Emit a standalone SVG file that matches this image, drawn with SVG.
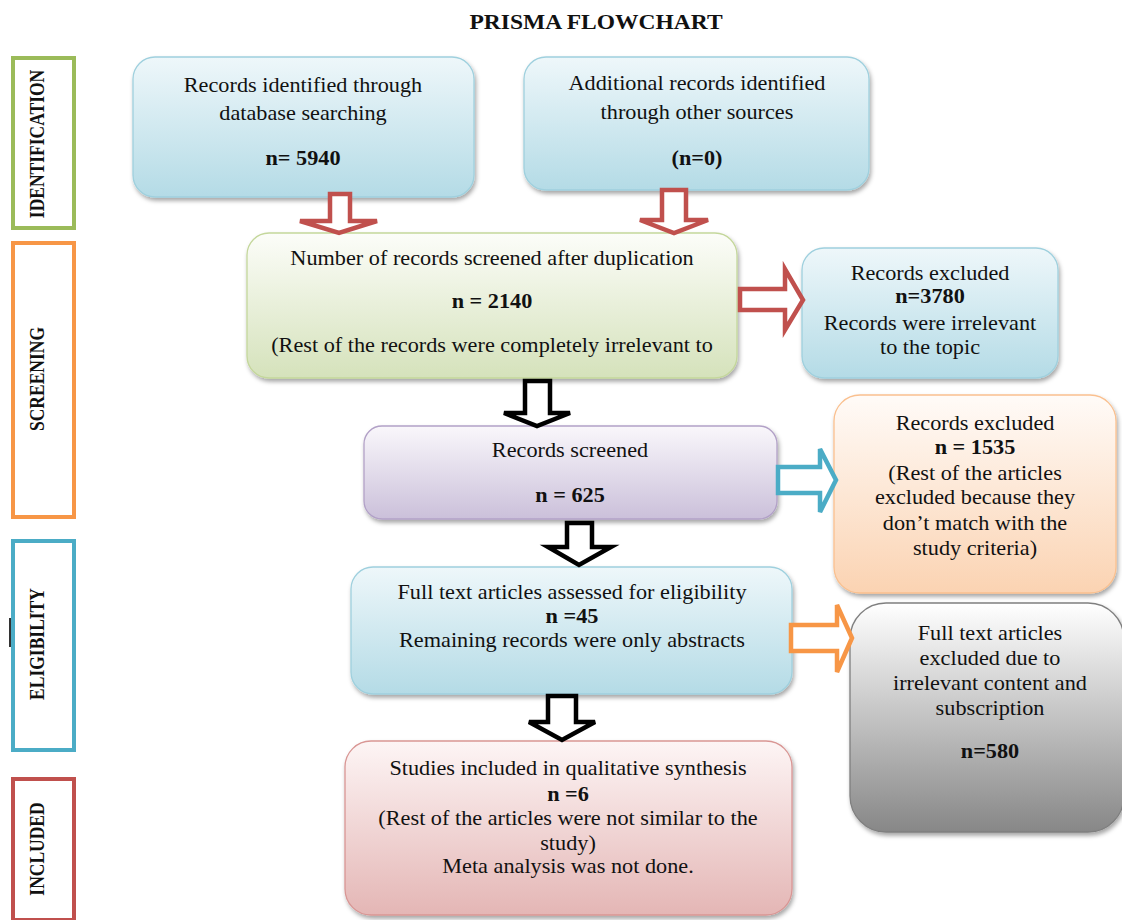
<svg xmlns="http://www.w3.org/2000/svg" width="1122" height="920" viewBox="0 0 1122 920">
<style>
text{font-family:"Liberation Serif","Times New Roman",serif;fill:#111;}
.t{font-size:21px;text-anchor:middle;}
.b{font-weight:bold;}
.title{font-size:21px;font-weight:bold;text-anchor:middle;}
.side{font-size:17.5px;font-weight:bold;text-anchor:middle;dominant-baseline:central;}
.sbox{fill:#fff;stroke-width:4;}
.box{stroke-width:1.3;filter:url(#sh);}
.arr{fill:#fff;stroke-width:4.5;stroke-linejoin:miter;}
</style>
<defs>
<filter id="sh" x="-10%" y="-10%" width="125%" height="130%">
<feDropShadow dx="1.5" dy="3" stdDeviation="2" flood-color="#000" flood-opacity="0.35"/>
</filter>
<linearGradient id="gBlue" x1="0" y1="0" x2="0" y2="1"><stop offset="0" stop-color="#eef7fa"/><stop offset="1" stop-color="#b4dbe6"/></linearGradient>
<linearGradient id="gGreen" x1="0" y1="0" x2="0" y2="1"><stop offset="0" stop-color="#fcfdf9"/><stop offset="1" stop-color="#d5e2bb"/></linearGradient>
<linearGradient id="gPurple" x1="0" y1="0" x2="0" y2="1"><stop offset="0" stop-color="#f9f7fb"/><stop offset="1" stop-color="#cbc0da"/></linearGradient>
<linearGradient id="gOrange" x1="0" y1="0" x2="0" y2="1"><stop offset="0" stop-color="#fffbf8"/><stop offset="1" stop-color="#fbd3b2"/></linearGradient>
<linearGradient id="gGray" x1="0" y1="0" x2="0" y2="1"><stop offset="0" stop-color="#ffffff"/><stop offset="1" stop-color="#878787"/></linearGradient>
<linearGradient id="gPink" x1="0" y1="0" x2="0" y2="1"><stop offset="0" stop-color="#fdf5f5"/><stop offset="1" stop-color="#e4b6b5"/></linearGradient>
</defs>
<rect width="1122" height="920" fill="#fff"/>

<text class="title" x="0" y="29" transform="translate(596 0) scale(1.12 1)">PRISMA FLOWCHART</text>

<g id="stage-identification">
<rect class="sbox" x="13" y="58" width="61" height="170" stroke="#9bbb59"/>
<text class="side" transform="translate(37 144) rotate(-90) scale(1 1.15)">IDENTIFICATION</text>
</g>
<g id="stage-screening">
<rect class="sbox" x="13" y="243" width="61" height="274" stroke="#f79646"/>
<text class="side" transform="translate(37 379) rotate(-90) scale(1 1.15)">SCREENING</text>
</g>
<g id="stage-eligibility">
<rect class="sbox" x="13" y="541" width="61" height="209" stroke="#4bacc6"/>
<text class="side" transform="translate(37 644) rotate(-90) scale(1 1.15)">ELIGIBILITY</text>
<line x1="10" y1="618" x2="10" y2="647" stroke="#333" stroke-width="2"/>
</g>
<g id="stage-included">
<rect class="sbox" x="13" y="779" width="61" height="141" stroke="#c0504d"/>
<text class="side" transform="translate(37 849) rotate(-90) scale(1 1.15)">INCLUDED</text>
</g>

<g id="node-database">
<rect class="box" x="133" y="57" width="341" height="140" rx="22" fill="url(#gBlue)" stroke="#9fd0de"/>
<g transform="translate(303 0) scale(1.06 1)">
<text class="t" x="0" y="92">Records identified through</text>
<text class="t" x="0" y="120">database searching</text>
<text class="t b" x="0" y="165">n= 5940</text>
</g>
</g>
<g id="node-other">
<rect class="box" x="524" y="57" width="345" height="133" rx="22" fill="url(#gBlue)" stroke="#9fd0de"/>
<g transform="translate(697 0) scale(1.06 1)">
<text class="t" x="0" y="90">Additional records identified</text>
<text class="t" x="0" y="119">through other sources</text>
<text class="t b" x="0" y="165">(n=0)</text>
</g>
</g>
<g id="node-screened-dup">
<rect class="box" x="247" y="233" width="490" height="145" rx="22" fill="url(#gGreen)" stroke="#c4d79b"/>
<g transform="translate(492 0) scale(1.06 1)">
<text class="t" x="0" y="265">Number of records screened after duplication</text>
<text class="t b" x="0" y="308">n = 2140</text>
<text class="t" x="0" y="352">(Rest of the records were completely irrelevant to</text>
</g>
</g>
<g id="node-excluded-3780">
<rect class="box" x="802" y="248" width="256" height="130" rx="22" fill="url(#gBlue)" stroke="#9fd0de"/>
<g transform="translate(930 0) scale(1.06 1)">
<text class="t" x="0" y="280">Records excluded</text>
<text class="t b" x="0" y="303">n=3780</text>
<text class="t" x="0" y="330">Records were irrelevant</text>
<text class="t" x="0" y="354">to the topic</text>
</g>
</g>
<g id="node-screened">
<rect class="box" x="364" y="426" width="413" height="93" rx="18" fill="url(#gPurple)" stroke="#b2a1c7"/>
<g transform="translate(570 0) scale(1.06 1)">
<text class="t" x="0" y="457">Records screened</text>
<text class="t b" x="0" y="502">n = 625</text>
</g>
</g>
<g id="node-excluded-1535">
<rect class="box" x="834" y="395" width="282" height="198" rx="26" fill="url(#gOrange)" stroke="#fac08f"/>
<g transform="translate(975 0) scale(1.06 1)">
<text class="t" x="0" y="430">Records excluded</text>
<text class="t b" x="0" y="454">n = 1535</text>
<text class="t" x="0" y="480">(Rest of the articles</text>
<text class="t" x="0" y="504">excluded because they</text>
<text class="t" x="0" y="530">don’t match with the</text>
<text class="t" x="0" y="555">study criteria)</text>
</g>
</g>
<g id="node-fulltext">
<rect class="box" x="351" y="567" width="441" height="127" rx="22" fill="url(#gBlue)" stroke="#9fd0de"/>
<g transform="translate(572 0) scale(1.06 1)">
<text class="t" x="0" y="599">Full text articles assessed for eligibility</text>
<text class="t b" x="0" y="623">n =45</text>
<text class="t" x="0" y="647">Remaining records were only abstracts</text>
</g>
</g>
<g id="node-excluded-580">
<rect class="box" x="850" y="603" width="274" height="229" rx="36" fill="url(#gGray)" stroke="#7f7f7f"/>
<g transform="translate(990 0) scale(1.06 1)">
<text class="t" x="0" y="640">Full text articles</text>
<text class="t" x="0" y="665">excluded due to</text>
<text class="t" x="0" y="690">irrelevant content and</text>
<text class="t" x="0" y="715">subscription</text>
<text class="t b" x="0" y="758">n=580</text>
</g>
</g>
<g id="node-included">
<rect class="box" x="345" y="741" width="447" height="174" rx="26" fill="url(#gPink)" stroke="#d99694"/>
<g transform="translate(568 0) scale(1.06 1)">
<text class="t" x="0" y="775">Studies included in qualitative synthesis</text>
<text class="t b" x="0" y="801">n =6</text>
<text class="t" x="0" y="825">(Rest of the articles were not similar to the</text>
<text class="t" x="0" y="850">study)</text>
<text class="t" x="0" y="873">Meta analysis was not done.</text>
</g>
</g>

<g id="connectors">
<polygon class="arr" stroke="#c0504d" points="330,194 350,194 350,221 377,221 339,233 300,221 330,221"/>
<polygon class="arr" stroke="#c0504d" points="662,190 686,190 686,220 708,220 674,233 640,220 662,220"/>
<polygon class="arr" stroke="#c0504d" points="740,289 785,289 785,269 803,300 785,330 785,310 740,310"/>
<polygon class="arr" stroke="#000" points="525,381 550,381 550,413 570,413 537,426 504,413 525,413"/>
<polygon class="arr" stroke="#4bacc6" points="778,467 820,467 820,449 836,480 820,512 820,493 778,493"/>
<polygon class="arr" stroke="#000" points="567,523 592,523 592,547 611,547 579,565 548,547 567,547"/>
<polygon class="arr" stroke="#f79646" points="791,625 837,625 837,605 852,638 837,672 837,651 791,651"/>
<polygon class="arr" stroke="#000" points="548,696 576,696 576,722 595,722 562,740 529,722 548,722"/>
</g>
</svg>
